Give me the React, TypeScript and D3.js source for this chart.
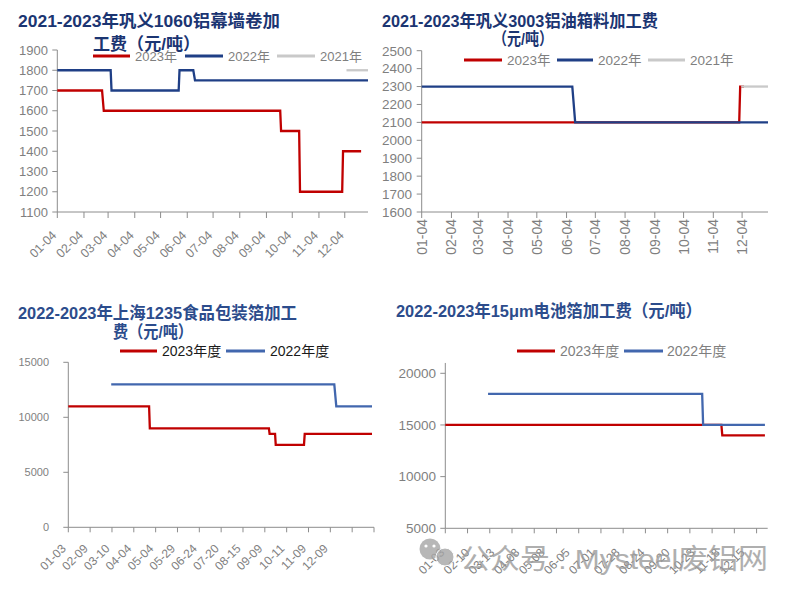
import React from "react";
import * as d3 from "d3";

type Pt = [string, number];

// ---------- Panel 1 data ----------
const p1Title = ["2021-2023年巩义1060铝幕墙卷加", "工费（元/吨）"];
const p1XTicks = ["01-04", "02-04", "03-04", "04-04", "05-04", "06-04", "07-04", "08-04", "09-04", "10-04", "11-04", "12-04"];
const p1YTicks = [1100, 1200, 1300, 1400, 1500, 1600, 1700, 1800, 1900];
const p1Y2023: Pt[] = [["01-04", 1700], ["02-25", 1700], ["02-27", 1600], ["09-20", 1600], ["09-21", 1500], ["10-12", 1500], ["10-13", 1200], ["12-01", 1200], ["12-02", 1400], ["12-23", 1400]];
const p1Y2022: Pt[] = [["01-04", 1800], ["03-07", 1800], ["03-08", 1700], ["05-25", 1700], ["05-26", 1800], ["06-11", 1800], ["06-13", 1750], ["12-31", 1750]];
const p1Y2021: Pt[] = [["12-06", 1800], ["12-31", 1800]];

// ---------- Panel 2 data ----------
const p2Title = ["2021-2023年巩义3003铝油箱料加工费", "（元/吨）"];
const p2XTicks = p1XTicks;
const p2YTicks = [1600, 1700, 1800, 1900, 2000, 2100, 2200, 2300, 2400, 2500];
const p2Y2023: Pt[] = [["01-04", 2100], ["12-01", 2100], ["12-02", 2300], ["12-06", 2300]];
const p2Y2022: Pt[] = [["01-04", 2300], ["06-10", 2300], ["06-13", 2100], ["12-31", 2100]];
const p2Y2021: Pt[] = [["12-03", 2300], ["12-31", 2300]];

// ---------- Panel 3 data ----------
const p3Title = ["2022-2023年上海1235食品包装箔加工", "费（元/吨）"];
const p3Labels = ["01-03", "02-09", "03-10", "04-04", "05-04", "05-29", "06-24", "07-20", "08-15", "09-09", "10-11", "11-09", "12-09"];
const p3YTicks = [0, 5000, 10000, 15000];
const p3Y2023: Pt[] = [["01-03", 11000], ["04-25", 11000], ["04-26", 9000], ["09-15", 9000], ["09-16", 8500], ["09-24", 8500], ["09-25", 7500], ["11-03", 7500], ["11-04", 8500], ["12-30", 8500]];
const p3Y2022: Pt[] = [["03-09", 13000], ["12-11", 13000], ["12-12", 11000], ["12-30", 11000]];

// ---------- Panel 4 data ----------
const p4Title = "2022-2023年15μm电池箔加工费（元/吨）";
const p4Labels = ["01-03", "02-10", "03-13", "04-08", "05-08", "06-05", "07-01", "07-28", "08-24", "09-20", "10-23", "11-18", "12-15"];
const p4YTicks = [5000, 10000, 15000, 20000];
const p4Y2023: Pt[] = [["01-03", 15000], ["11-19", 15000], ["11-20", 14000], ["12-29", 14000]];
const p4Y2022: Pt[] = [["03-04", 18000], ["10-30", 18000], ["10-31", 15000], ["12-29", 15000]];

const legendTop = ["2023年", "2022年", "2021年"];
const legendBottom = ["2023年度", "2022年度"];

// ---------- styles ----------
const RED = "#C00000";
const NAVY = "#1F3F86";
const BLUE = "#4267AE";
const LGRAY = "#C9C9C9";
const AXIS = "#8C8C8C";
const TXT = "#7F7F7F";
const TITLE_TOP = "#1B3572";
const TITLE_BOT = "#2C4C8C";
const SANS = "'Liberation Sans', Arial, 'Noto Sans CJK SC', sans-serif";

const parseFull = d3.timeParse("%Y-%m-%d");
const parse = (md: string) => parseFull("2021-" + md) as Date;

function linePath(pts: Pt[], x: (d: Date) => number, y: (v: number) => number) {
  return d3.line<Pt>().x((d) => x(parse(d[0]))).y((d) => y(d[1]))(pts) || "";
}

function Title({ x, y, text, len, color }: { x: number; y: number; text: string; len: number; color: string }) {
  return (
    <text x={x} y={y} fontSize={17} fontWeight={700} fill={color} fontFamily={SANS} textLength={len} lengthAdjust="spacingAndGlyphs">
      {text}
    </text>
  );
}

function YAxis({ y, ticks, x, fontSize, labelX }: { y: d3.ScaleLinear<number, number>; ticks: number[]; x: number; fontSize: number; labelX: number }) {
  const [r0, r1] = y.range();
  return (
    <g>
      <line x1={x} x2={x} y1={r0} y2={r1} stroke={AXIS} strokeWidth={1} />
      {ticks.map((t) => (
        <g key={t}>
          <line x1={x - 5} x2={x} y1={y(t)} y2={y(t)} stroke={AXIS} />
          <text x={labelX} y={y(t)} dy="0.36em" textAnchor="end" fontSize={fontSize} fill={TXT} fontFamily={SANS}>
            {t}
          </text>
        </g>
      ))}
    </g>
  );
}

function Legend({ items, colors, y, lineX, textX, fontSize, color }: { items: string[]; colors: string[]; y: number; lineX: [number, number][]; textX: number[]; fontSize: number; color: string }) {
  return (
    <g>
      {items.map((it, i) => (
        <g key={it}>
          <line x1={lineX[i][0]} x2={lineX[i][1]} y1={y} y2={y} stroke={colors[i]} strokeWidth={3} />
          <text x={textX[i]} y={y} dy="0.36em" fontSize={fontSize} fill={color} fontFamily={SANS}>
            {it}
          </text>
        </g>
      ))}
    </g>
  );
}

function Panel1() {
  const x0 = 57.3, x1 = 368, yb = 212;
  const x = d3.scaleTime().domain([parse("01-04"), parse("12-31")]).range([x0, x1]);
  const y = d3.scaleLinear().domain([1100, 1900]).range([yb, 50]);
  return (
    <g>
      <Title x={18} y={27} text={p1Title[0]} len={262} color={TITLE_TOP} />
      <Title x={93} y={49.5} text={p1Title[1]} len={107} color={TITLE_TOP} />
      <YAxis y={y} ticks={p1YTicks} x={x0} fontSize={13} labelX={48} />
      <line x1={x0} x2={x1} y1={yb} y2={yb} stroke={AXIS} />
      {p1XTicks.map((t) => {
        const px = x(parse(t));
        return (
          <g key={t}>
            <line x1={px} x2={px} y1={yb} y2={yb + 6} stroke={AXIS} />
            <text transform={`translate(${px},${yb + 24}) rotate(-45)`} textAnchor="end" fontSize={12.5} fill={TXT} fontFamily={SANS}>{t}</text>
          </g>
        );
      })}
      <path d={linePath(p1Y2023, x, y)} fill="none" stroke={RED} strokeWidth={2.3} />
      <path d={linePath(p1Y2022, x, y)} fill="none" stroke={NAVY} strokeWidth={2.3} />
      <path d={linePath(p1Y2021, x, y)} fill="none" stroke={LGRAY} strokeWidth={2.3} />
      <Legend items={legendTop} colors={[RED, NAVY, LGRAY]} y={56} lineX={[[93, 130], [185, 223], [277, 315]]} textX={[135, 228, 320]} fontSize={13} color={TXT} />
    </g>
  );
}

function Panel2() {
  const x0 = 421.7, x1 = 768, yb = 212;
  const x = d3.scaleTime().domain([parse("01-04"), parse("12-31")]).range([x0, x1]);
  const y = d3.scaleLinear().domain([1600, 2500]).range([yb, 50.7]);
  return (
    <g>
      <Title x={382} y={27} text={p2Title[0]} len={276} color={TITLE_TOP} />
      <Title x={493} y={45} text={p2Title[1]} len={60} color={TITLE_TOP} />
      <YAxis y={y} ticks={p2YTicks} x={x0} fontSize={13.5} labelX={412} />
      <line x1={x0} x2={x1} y1={yb} y2={yb} stroke={AXIS} />
      {p2XTicks.map((t) => {
        const px = x(parse(t));
        return (
          <g key={t}>
            <line x1={px} x2={px} y1={yb} y2={yb + 6} stroke={AXIS} />
            <text transform={`translate(${px + 5},${yb + 7}) rotate(-90)`} textAnchor="end" fontSize={14} fill={TXT} fontFamily={SANS}>{t}</text>
          </g>
        );
      })}
      <path d={linePath(p2Y2023, x, y)} fill="none" stroke={RED} strokeWidth={2.3} />
      <path d={linePath(p2Y2022, x, y)} fill="none" stroke={NAVY} strokeWidth={2.3} />
      <path d={linePath(p2Y2021, x, y)} fill="none" stroke={LGRAY} strokeWidth={2.3} />
      <Legend items={legendTop} colors={[RED, NAVY, LGRAY]} y={60} lineX={[[464, 502], [557, 593], [648, 685]]} textX={[507, 598, 690]} fontSize={13.5} color={TXT} />
    </g>
  );
}

function Panel3() {
  const x0 = 68.3, x1 = 374, yb = 527.3;
  const nSlots = 14;
  const slot = d3.scaleLinear().domain([0, nSlots]).range([x0, x1]);
  const anchors = [...p3Labels.map(parse), parse("12-31")];
  const x = d3.scaleTime().domain(anchors).range([...p3Labels.map((_, i) => slot(i)), slot(nSlots)]);
  const y = d3.scaleLinear().domain([0, 15000]).range([yb, 362.3]);
  return (
    <g>
      <Title x={18} y={318.5} text={p3Title[0]} len={279} color={TITLE_BOT} />
      <Title x={113} y={337.5} text={p3Title[1]} len={80} color={TITLE_BOT} />
      <YAxis y={y} ticks={p3YTicks} x={x0} fontSize={11} labelX={49} />
      <line x1={x0} x2={x1} y1={yb} y2={yb} stroke={AXIS} />
      {d3.range(0, nSlots + 1).map((k) => (
        <line key={k} x1={slot(k)} x2={slot(k)} y1={yb} y2={yb + 5} stroke={AXIS} />
      ))}
      {p3Labels.map((t, i) => (
        <text key={t} transform={`translate(${slot(i) - 1.5},${yb + 22}) rotate(-45)`} textAnchor="end" fontSize={12} fill={TXT} fontFamily={SANS}>{t}</text>
      ))}
      <path d={linePath(p3Y2023, x, y)} fill="none" stroke={RED} strokeWidth={2.3} />
      <path d={linePath(p3Y2022, x, y)} fill="none" stroke={BLUE} strokeWidth={2.3} />
      <Legend items={legendBottom} colors={[RED, BLUE]} y={351} lineX={[[120, 157], [226, 265]]} textX={[162, 270]} fontSize={14} color="#1A1A1A" />
    </g>
  );
}

function Panel4() {
  const x0 = 445.3, x1 = 767.7, yb = 528.3;
  const nCats = 116, tickEvery = 8, labelEvery = 9;
  const cat = d3.scaleLinear().domain([0, nCats]).range([x0, x1]);
  const anchors = [...p4Labels.map(parse), parse("12-31")];
  const x = d3.scaleTime().domain(anchors).range([...p4Labels.map((_, i) => cat(i * labelEvery)), cat(nCats)]);
  const y = d3.scaleLinear().domain([5000, 21000]).range([yb, yb - (16000 * 155) / 15000]);
  return (
    <g>
      <Title x={396} y={317} text={p4Title} len={306} color={TITLE_BOT} />
      <YAxis y={y} ticks={p4YTicks} x={x0} fontSize={13.5} labelX={436} />
      <line x1={x0} x2={x1} y1={yb} y2={yb} stroke={AXIS} />
      {d3.range(0, nCats, tickEvery).map((k) => (
        <line key={k} x1={cat(k)} x2={cat(k)} y1={yb} y2={yb + 5} stroke={AXIS} />
      ))}
      {p4Labels.map((t, i) => (
        <text key={t} transform={`translate(${cat(i * labelEvery)},${yb + 25}) rotate(-45)`} textAnchor="end" fontSize={12} fill={TXT} fontFamily={SANS}>{t}</text>
      ))}
      <path d={linePath(p4Y2023, x, y)} fill="none" stroke={RED} strokeWidth={2.3} />
      <path d={linePath(p4Y2022, x, y)} fill="none" stroke={BLUE} strokeWidth={2.3} />
      <Legend items={legendBottom} colors={[RED, BLUE]} y={351} lineX={[[517, 555], [624, 663]]} textX={[560, 667]} fontSize={14} color={TXT} />
    </g>
  );
}

function Watermark() {
  return (
    <g opacity={0.8}>
      <circle cx={430} cy={549} r={10.5} fill="#A6A6A6" />
      <circle cx={445} cy={557} r={9} fill="#A6A6A6" stroke="#fff" strokeWidth={1} />
      <circle cx={426} cy={546} r={1.6} fill="#fff" />
      <circle cx={434} cy={546} r={1.6} fill="#fff" />
      <text x={460} y={569} fontSize={28} fill="#9C9C9C" fontFamily={SANS} textLength={308} lengthAdjust="spacingAndGlyphs">
        公众号 : Mysteel废铝网
      </text>
    </g>
  );
}

export default function App() {
  return (
    <div style={{ position: "absolute", left: 0, top: 0 }}>
      <svg width={801} height={598} style={{ display: "block", background: "#fff" }}>
        <Panel1 />
        <Panel2 />
        <Panel3 />
        <Panel4 />
        <Watermark />
      </svg>
    </div>
  );
}
